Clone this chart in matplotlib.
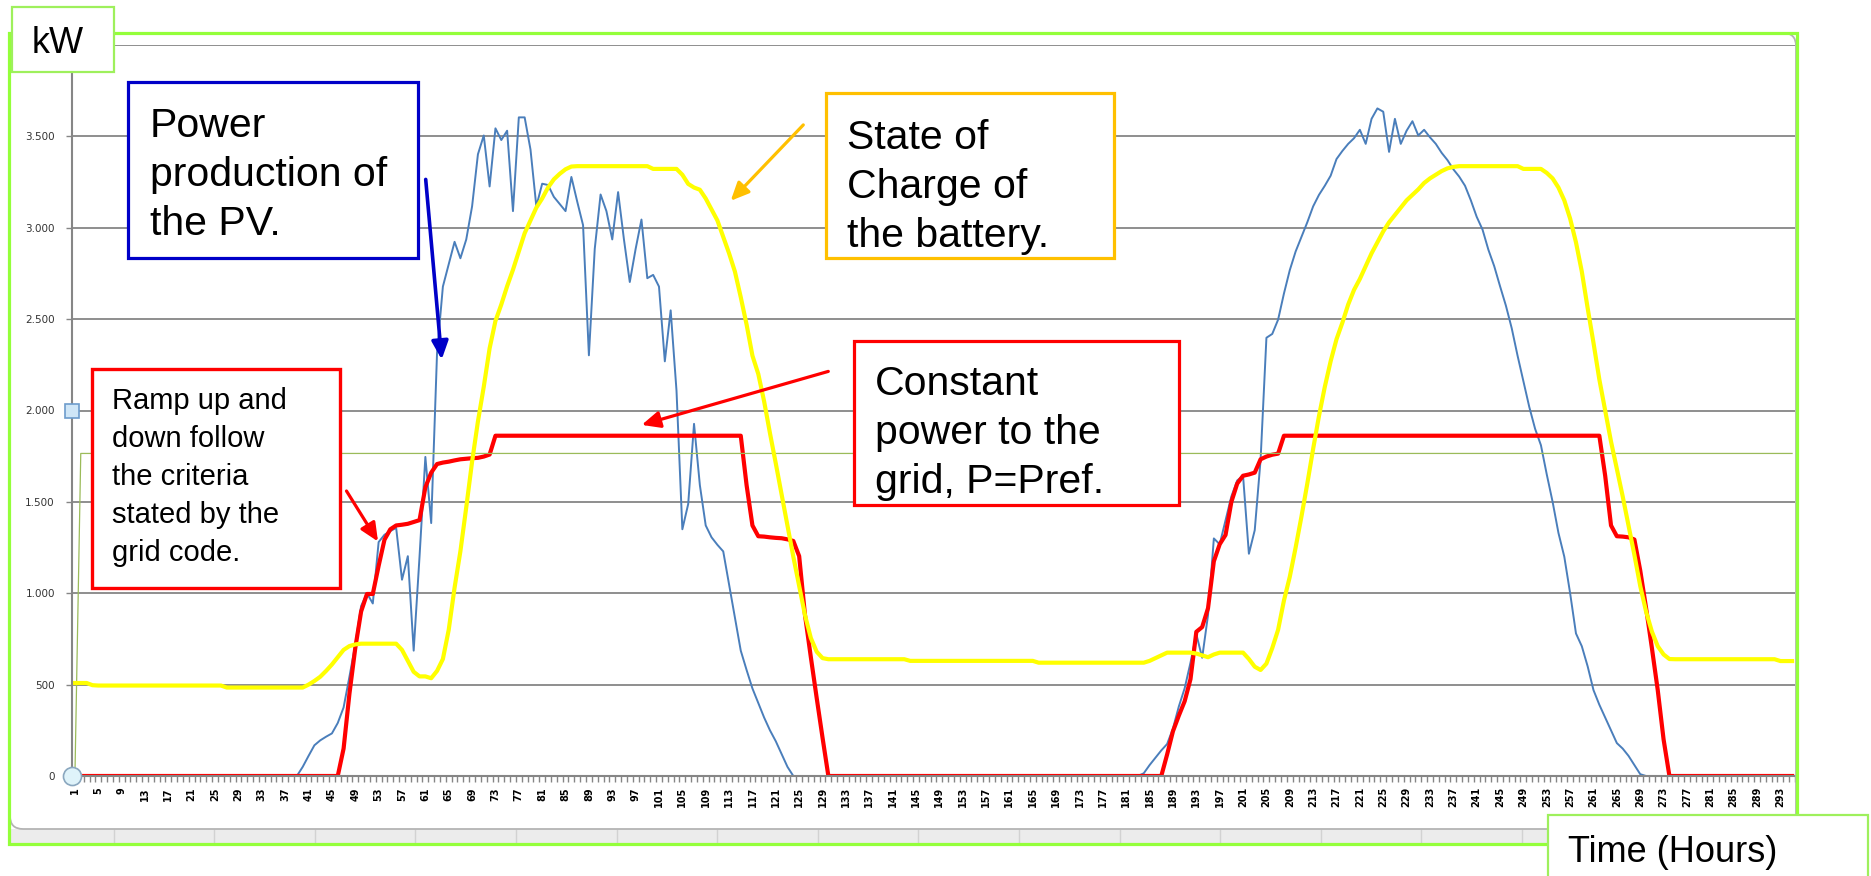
import matplotlib
matplotlib.use("Agg")
import matplotlib.pyplot as plt
from matplotlib.patches import Rectangle, FancyArrowPatch, FancyBboxPatch
from matplotlib.lines import Line2D

W, H = 1871, 876

# ---------------- data ----------------
hours = list(range(1, 296))

pv_power = ([0] * 39 +
            [50, 110, 168, 195, 215, 233, 290, 375, 543, 720,
             930, 1000, 944, 1280, 1320, 1340, 1358, 1074, 1203, 686,
             1200, 1746, 1384, 2315, 2678, 2800, 2923, 2833, 2936, 3117,
             3402, 3505, 3226, 3544, 3480, 3531, 3091, 3604, 3604, 3428,
             3117, 3241, 3234, 3169, 3130, 3091, 3278, 3143, 3014, 2302,
             2884, 3182, 3091, 2936, 3195, 2936, 2703, 2884, 3045, 2724,
             2742, 2678, 2269, 2548, 2108, 1350, 1488, 1927, 1591, 1371,
             1306, 1265, 1229, 1048, 870, 686, 580, 479, 400, 320,
             250, 190, 120, 50] +
            [0] * 60 +
            [15, 60, 100, 140, 175, 260, 380, 480, 620, 776,
             647, 880, 1300, 1268, 1400, 1530, 1617, 1643, 1216, 1345,
             1730, 2398, 2419, 2497, 2640, 2768, 2870, 2950, 3030, 3117,
             3180, 3230, 3285, 3376, 3420, 3459, 3490, 3536, 3459, 3596,
             3653, 3635, 3415, 3596, 3459, 3531, 3583, 3505, 3536, 3495,
             3459, 3410, 3370, 3320, 3280, 3230, 3150, 3060, 2990, 2880,
             2790, 2680, 2574, 2450, 2300, 2160, 2020, 1900, 1810, 1650,
             1500, 1330, 1200, 1000, 780, 710, 600, 470, 390, 320,
             250, 180, 150, 110, 60, 10] +
            [0] * 26)

grid_power = ([0] * 46 +
              [150, 450, 700, 900, 996, 996, 1150, 1293, 1350, 1371,
               1375, 1380, 1390, 1400, 1580, 1660, 1707, 1715, 1720, 1727,
               1733, 1736, 1739, 1741, 1748, 1759] +
              [1862] * 43 +
              [1591, 1371, 1312, 1310, 1306, 1303, 1301, 1295, 1286, 1203,
               880, 650, 427, 210] +
              [0] * 58 +
              [118, 245, 330, 409, 530, 789, 815, 918, 1175, 1268,
               1319, 1500, 1600, 1643, 1650, 1660, 1733, 1748, 1758, 1764] +
              [1862] * 55 +
              [1643, 1371, 1312, 1310, 1306, 1294, 1125, 920, 700, 470, 200] +
              [0] * 22)

battery_soc = ([509] * 3 + [497] + [495] * 22 + [484] * 14 +
               [500, 520, 543, 575, 610, 650, 690, 711, 720] +
               [724] * 7 +
               [690, 630, 570, 545, 545, 535, 575, 640, 800, 1030,
                1230, 1470, 1720, 1940, 2130, 2340, 2490, 2580, 2680, 2770,
                2870, 2970, 3040, 3110, 3160, 3220, 3265, 3295, 3320, 3335] +
               [3337] * 13 +
               [3322] * 5 +
               [3290, 3240, 3220, 3208, 3160, 3100, 3040, 2950, 2860, 2760,
                2620, 2470, 2300, 2200, 2050, 1876, 1710, 1540, 1370, 1200,
                1040, 880, 755, 680, 645] +
               [639] * 14 + [630] * 22 + [620] * 19 +
               [630, 645, 660, 675] + [675] * 4 + [670, 660, 650, 665] + [675] * 5 +
               [640, 598, 580, 615, 700, 800, 960, 1090, 1250, 1420,
                1600, 1790, 1970, 2130, 2270, 2390, 2480, 2580, 2660, 2720,
                2790, 2860, 2920, 2980, 3030, 3070, 3110, 3150, 3180, 3210,
                3245, 3270, 3290, 3310, 3325, 3333] +
               [3337] * 11 + [3322] * 4 +
               [3300, 3270, 3220, 3150, 3050, 2920, 2760, 2560, 2370, 2170,
                2000, 1830, 1680, 1530, 1370, 1210, 1040, 900, 790, 710,
                665, 640] +
               [639] * 18 + [629] * 3)

pref_power = [0] + [1765] * 294

assert len(pv_power) == len(hours)
assert len(grid_power) == len(hours)
assert len(battery_soc) == len(hours)
assert len(pref_power) == len(hours)

y_ticks = [0, 500, 1000, 1500, 2000, 2500, 3000, 3500, 4000]
# the 4.000 label sits under the "kW" box in the original, so it is left blank
y_tick_labels = ["0", "500", "1.000", "1.500", "2.000", "2.500", "3.000", "3.500", ""]
x_tick_values = hours[::4]
x_tick_labels = [str(h) for h in x_tick_values]

# ---------------- figure ----------------
fig = plt.figure(figsize=(W / 100, H / 100), dpi=100)
fig.patch.set_facecolor("white")


def P(x, y):
    """pixel (from top-left) -> inches for dpi_scale_trans"""
    return (x / 100.0, (H - y) / 100.0)


T = fig.dpi_scale_trans

ax = fig.add_axes([72 / W, 1 - 776 / H, (1795 - 72) / W, (776 - 45) / H])
ax.set_facecolor("white")

gray = "#868686"
ax.plot(hours, pv_power, color="#4a7ebb", lw=1.4, zorder=2, solid_joinstyle="round")
ax.plot(hours, grid_power, color="#ff0000", lw=3.0, zorder=3, solid_joinstyle="round")
ax.plot(hours, pref_power, color="#9bbb59", lw=0.9, zorder=4)
ax.plot(hours, battery_soc, color="#ffff00", lw=3.0, zorder=5, solid_joinstyle="round")

ax.set_xlim(0.5, len(hours) + 0.5)
ax.set_ylim(0, 4000)

for s in ["top", "right"]:
    ax.spines[s].set_visible(False)
for s in ["left", "bottom"]:
    ax.spines[s].set_color(gray)
    ax.spines[s].set_linewidth(1.5)
    ax.spines[s].set_zorder(6)

ax.set_yticks(y_ticks)
ax.set_yticklabels(y_tick_labels)
ax.tick_params(axis="y", direction="out", length=4.3, width=1, color=gray,
               pad=8, labelsize=7.5, labelcolor="#333333")
ax.yaxis.grid(True, color=gray, lw=1.3)
ax.set_axisbelow(True)

ax.set_xticks(x_tick_values)
ax.set_xticklabels(x_tick_labels, rotation=90, fontsize=7, fontweight="bold",
                   color="black")
ax.set_xticks([h + 0.5 for h in range(0, len(hours) + 1)], minor=True)
ax.tick_params(axis="x", which="major", length=0, pad=8)
ax.tick_params(axis="x", which="minor", direction="out", length=4.3, width=1, color=gray)

# selection handles on the value axis
ax.plot([0], [0], "o", transform=ax.transAxes, ms=13, mfc="#dff3fa", mec="#8aa7bf",
        mew=1.2, clip_on=False, zorder=8)
ax.plot([0], [0.5], "s", transform=ax.transAxes, ms=9.5, mfc="#cfe6f7", mec="#6d9ccc",
        mew=1.2, clip_on=False, zorder=8)

# ---------------- chart-area frame / sheet band ----------------
fig.add_artist(Rectangle(P(10, 843), (1797 - 10) / 100, 14 / 100, transform=T,
                         fc="#ececec", ec="none", zorder=1))
for k in range(15):
    xs = 113.6 + 100.6 * k
    fig.add_artist(Line2D([xs / 100, xs / 100], [(H - 830) / 100, (H - 842) / 100],
                          transform=T, color="#d2d2d2", lw=1, zorder=1.1))
fig.add_artist(FancyBboxPatch(P(10, 829), (1796 - 10) / 100, (829 - 33) / 100,
                              boxstyle="round,pad=0,rounding_size=0.13", transform=T,
                              fc="none", ec="#b4b4b4", lw=1.3, zorder=1.2))

# outer green border
fig.add_artist(Rectangle(P(9, 844), (1797 - 9) / 100, (844 - 33) / 100, transform=T,
                         fc="none", ec="#94ff3a", lw=2.3, zorder=4))

# ---------------- annotation boxes ----------------
def box(x0, y0, x1, y1, ec, lw, z=5):
    fig.add_artist(Rectangle(P(x0, y1), (x1 - x0) / 100, (y1 - y0) / 100, transform=T,
                             fc="white", ec=ec, lw=lw, zorder=z))


def label(x, y_last, s, size, ls=1.36, z=6):
    """y_last = baseline of the last text line (pixels from top)"""
    xi, yi = P(x, y_last)
    fig.text(xi / (W / 100), yi / (H / 100), s, fontsize=size, family="Liberation Sans",
             ha="left", va="baseline", linespacing=ls, color="black", zorder=z)


box(12, 7, 114, 72, "#9ef05c", 1.6)
label(32, 53, "kW", 26)

box(1548, 815, 1868, 890, "#9ef05c", 1.6)
label(1568, 862, "Time (Hours)", 26)

box(128, 82, 418, 258, "#0000c8", 2.3)
label(150, 235, "Power\nproduction of\nthe PV.", 29.5)

box(826, 93, 1114, 258, "#ffc000", 2.3)
label(847, 247, "State of\nCharge of\nthe battery.", 29.5)

box(854, 341, 1179, 505, "#ff0000", 2.3)
label(875, 493, "Constant\npower to the\ngrid, P=Pref.", 29.5)

box(92, 369, 340, 588, "#ff0000", 2.4)
label(112, 561, "Ramp up and\ndown follow\nthe criteria\nstated by the\ngrid code.", 21, ls=1.46)


# ---------------- arrows ----------------
def arrow(p0, p1, color, lw):
    fig.add_artist(FancyArrowPatch(P(*p0), P(*p1), transform=T,
                                   arrowstyle="-|>,head_length=11,head_width=5",
                                   mutation_scale=1, color=color, lw=lw,
                                   shrinkA=0, shrinkB=0, zorder=7))


arrow((425.7, 179.4), (441.7, 359.5), "#0000c8", 2.6)
arrow((803.3, 124.9), (730.7, 200.8), "#ffc000", 2.3)
arrow((828.3, 371.4), (641.7, 424.9), "#ff0000", 2.3)
arrow((346.5, 491.0), (378.0, 541.5), "#ff0000", 2.3)

fig.savefig("out.png", dpi=100)
